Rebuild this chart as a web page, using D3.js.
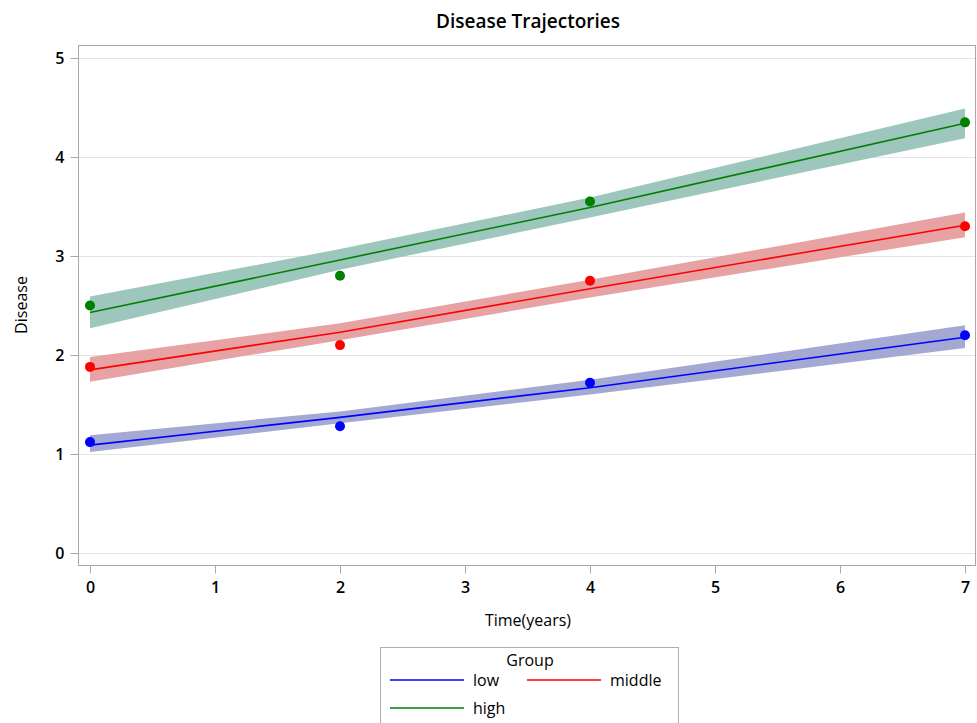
<!DOCTYPE html>
<html>
<head>
<meta charset="utf-8">
<script src="https://cdn.jsdelivr.net/npm/d3@7"></script>
<style>
  body { margin: 0; background: #fff; }
  text { font-family: "Open Sans", "DejaVu Sans", sans-serif; fill: #000; }
</style>
</head>
<body>
<svg id="chart" width="977" height="723"></svg>
<script>
// time points and observed means
var times = [0, 2, 4, 7];
var groups = ["low", "middle", "high"];
var observedLow = [1.12, 1.28, 1.72, 2.20];
var observedMiddle = [1.88, 2.10, 2.75, 3.30];
var observedHigh = [2.50, 2.80, 3.55, 4.35];

// fitted trajectories with confidence limits
var fitLow = [1.09, 1.37, 1.67, 2.18];
var lowerLow = [1.02, 1.31, 1.60, 2.07];
var upperLow = [1.19, 1.43, 1.75, 2.30];
var fitMiddle = [1.85, 2.23, 2.67, 3.31];
var lowerMiddle = [1.73, 2.15, 2.58, 3.19];
var upperMiddle = [1.98, 2.32, 2.76, 3.44];
var fitHigh = [2.43, 2.96, 3.49, 4.34];
var lowerHigh = [2.27, 2.86, 3.39, 4.19];
var upperHigh = [2.59, 3.07, 3.59, 4.49];

var xTicks = [0, 1, 2, 3, 4, 5, 6, 7];
var yTicks = [0, 1, 2, 3, 4, 5];

var lineColors = { low: "#0000ff", middle: "#ff0000", high: "#008000" };
var bandColors = { low: "#a3a9d2", middle: "#e7a3a3", high: "#9dc6bd" };

var series = [
    { key: "high", obs: observedHigh, fit: fitHigh, lo: lowerHigh, hi: upperHigh },
    { key: "middle", obs: observedMiddle, fit: fitMiddle, lo: lowerMiddle, hi: upperMiddle },
    { key: "low", obs: observedLow, fit: fitLow, lo: lowerLow, hi: upperLow }
];

var svg = d3.select("#chart");

var frame = { left: 78, right: 976, top: 45, bottom: 565 };

var x = d3.scaleLinear().domain([0, 7]).range([90, 965]);
var y = d3.scaleLinear().domain([0, 5]).range([553, 58]);

// frame
svg.append("rect")
    .attr("x", frame.left + 0.5)
    .attr("y", frame.top + 0.5)
    .attr("width", frame.right - frame.left - 1)
    .attr("height", frame.bottom - frame.top)
    .attr("fill", "none")
    .attr("stroke", "#a8a8a8");

// grid
svg.append("g").selectAll("line")
    .data(yTicks)
    .enter().append("line")
    .attr("x1", frame.left + 1)
    .attr("x2", frame.right - 1)
    .attr("y1", function (d) { return Math.round(y(d)) + 0.5; })
    .attr("y2", function (d) { return Math.round(y(d)) + 0.5; })
    .attr("stroke", "#e4e4e4");

// axes
var yAxis = svg.append("g")
    .attr("transform", "translate(" + (frame.left + 0.5) + ",0)")
    .call(d3.axisLeft(y).tickValues(yTicks).tickSize(8).tickPadding(6).tickFormat(d3.format("d")));
var xAxis = svg.append("g")
    .attr("transform", "translate(0," + (frame.bottom + 0.5) + ")")
    .call(d3.axisBottom(x).tickValues(xTicks).tickSize(8).tickPadding(8).tickFormat(d3.format("d")));

[xAxis, yAxis].forEach(function (ax) {
    ax.select(".domain").remove();
    ax.selectAll(".tick line").attr("stroke", "#a8a8a8");
    ax.selectAll(".tick text")
        .style("font-family", "'Open Sans', 'DejaVu Sans', sans-serif")
        .style("font-size", "16px")
        .style("font-weight", "600")
        .attr("fill", "#111");
});

// bands, lines, dots
var area = d3.area()
    .x(function (d) { return x(d.t); })
    .y0(function (d) { return y(d.lo); })
    .y1(function (d) { return y(d.hi); });
var line = d3.line()
    .x(function (d) { return x(d.t); })
    .y(function (d) { return y(d.v); });

series.forEach(function (s) {
    var pts = times.map(function (t, i) {
        return { t: t, lo: s.lo[i], hi: s.hi[i] };
    });
    svg.append("path")
        .datum(pts)
        .attr("d", area)
        .attr("fill", bandColors[s.key]);
});

series.forEach(function (s) {
    var pts = times.map(function (t, i) {
        return { t: t, v: s.fit[i], o: s.obs[i] };
    });
    svg.append("path")
        .datum(pts)
        .attr("d", line)
        .attr("fill", "none")
        .attr("stroke", lineColors[s.key])
        .attr("stroke-width", 1.6);
    svg.append("g").selectAll("circle")
        .data(pts)
        .enter().append("circle")
        .attr("cx", function (d) { return x(d.t); })
        .attr("cy", function (d) { return y(d.o); })
        .attr("r", 5)
        .attr("fill", lineColors[s.key]);
});

// title and axis labels
svg.append("text")
    .attr("x", 528).attr("y", 28)
    .attr("text-anchor", "middle")
    .style("font-size", "19px")
    .style("font-weight", "600")
    .text("Disease Trajectories");

svg.append("text")
    .attr("transform", "translate(27,305) rotate(-90)")
    .attr("text-anchor", "middle")
    .style("font-size", "16px")
    .text("Disease");

svg.append("text")
    .attr("x", 528).attr("y", 626)
    .attr("text-anchor", "middle")
    .style("font-size", "16px")
    .text("Time(years)");

// legend
var legend = svg.append("g");
legend.append("rect")
    .attr("x", 380.5).attr("y", 647.5)
    .attr("width", 298).attr("height", 90)
    .attr("fill", "#fff")
    .attr("stroke", "#b0b0b0");
legend.append("text")
    .attr("x", 530).attr("y", 666)
    .attr("text-anchor", "middle")
    .style("font-size", "16px")
    .text("Group");

var legendPos = {
    low: { x: 390, y: 680 },
    middle: { x: 527, y: 680 },
    high: { x: 390, y: 708 }
};
groups.forEach(function (g) {
    var p = legendPos[g];
    legend.append("line")
        .attr("x1", p.x).attr("x2", p.x + 74)
        .attr("y1", p.y).attr("y2", p.y)
        .attr("stroke", lineColors[g])
        .attr("stroke-width", 1.6);
    legend.append("text")
        .attr("x", p.x + 83).attr("y", p.y + 6)
        .style("font-size", "16px")
        .text(g);
});
</script>
</body>
</html>
